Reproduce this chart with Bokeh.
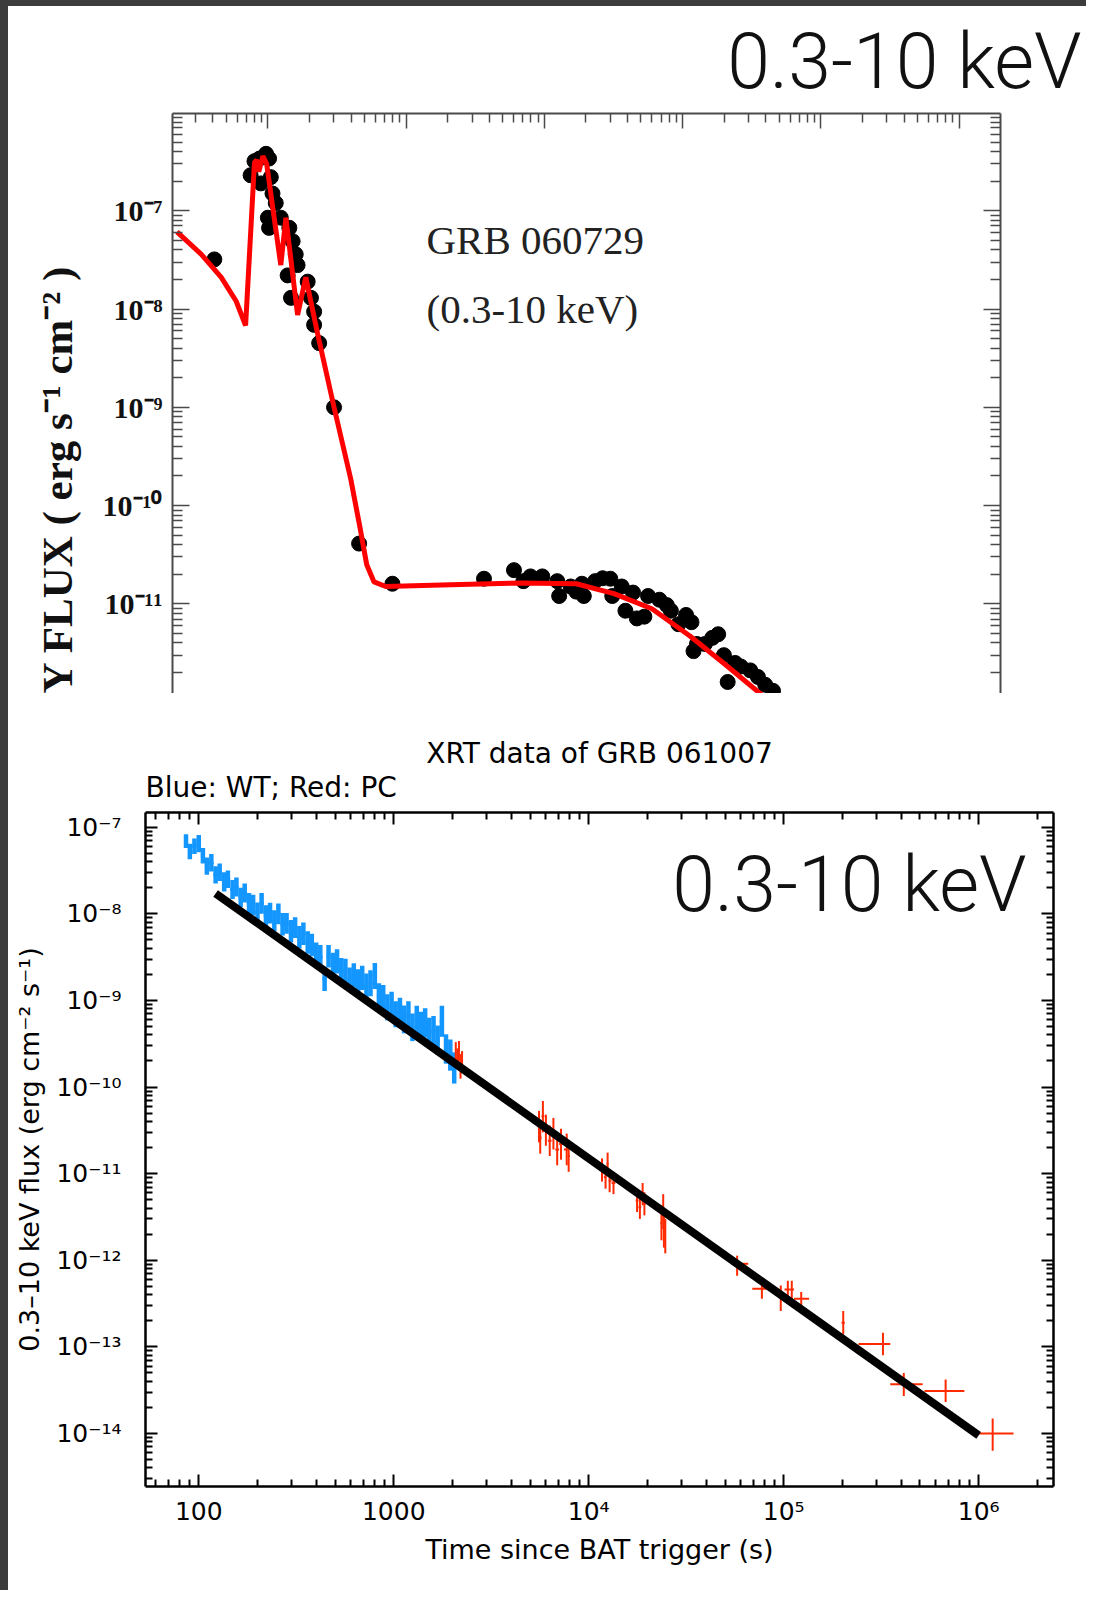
import numpy as np
from bokeh.plotting import figure
from bokeh.models import (LogAxis, FixedTicker, CustomJSTickFormatter, Label, Title, Range1d, Div)
from bokeh.layouts import column, row
from bokeh.embed import file_html
from bokeh.resources import INLINE

# ---------------- GRB 060729 (top panel) ----------------
g1_time = [41, 75, 80, 87, 97, 102, 89, 105, 108, 114,
           100, 102, 124, 143, 151, 159, 164, 139, 194, 147,
           205, 216, 216, 235, 301, 457, 796, 3660, 6030, 7050,
           7940, 9670, 12400, 12800, 15500, 17000, 18700, 19300, 23300, 26400,
           30000, 31000, 36300, 38600, 43800, 46700, 52900, 56300, 68000, 76900,
           82300, 93300, 106000, 116000, 120000, 127000, 145000, 164000, 181000, 199000,
           212000, 240000, 264000, 309000, 351000, 396000, 451000]
g1_flux = [3.2e-8, 2.3e-7, 3.2e-7, 3.4e-7, 3.8e-7, 3.4e-7, 1.9e-7, 2.2e-7, 1.5e-7, 1.2e-7,
           8.5e-8, 6.7e-8, 8.5e-8, 6.7e-8, 4.9e-8, 3.6e-8, 2.8e-8, 2.2e-8, 1.9e-8, 1.3e-8,
           1.3e-8, 9.4e-9, 6.9e-9, 4.5e-9, 1.0e-9, 4.1e-11, 1.6e-11, 1.8e-11, 2.2e-11, 1.7e-11,
           1.9e-11, 1.9e-11, 1.7e-11, 1.2e-11, 1.5e-11, 1.33e-11, 1.6e-11, 1.2e-11, 1.7e-11, 1.82e-11,
           1.8e-11, 1.2e-11, 1.5e-11, 8.5e-12, 1.3e-11, 7.1e-12, 7.4e-12, 1.2e-11, 1.1e-11, 9.7e-12,
           8.5e-12, 6.2e-12, 7.7e-12, 6.5e-12, 3.3e-12, 3.9e-12, 3.9e-12, 4.5e-12, 4.9e-12, 3.0e-12,
           1.6e-12, 2.5e-12, 2.3e-12, 2.1e-12, 1.8e-12, 1.5e-12, 1.3e-12]
g1_model_time = [22, 33, 46, 59, 69, 80, 83, 86, 92, 98,
                 124, 135, 164, 188, 229, 301, 398, 470, 519, 586,
                 713, 2100, 6730, 17000, 31900, 60000, 113000, 212000, 398000, 710000]
g1_model_flux = [6.1e-8, 3.6e-8, 2.1e-8, 1.2e-8, 6.8e-9, 3.1e-7, 3.3e-7, 2.5e-7, 3.6e-7, 3.0e-7,
                 2.8e-8, 8.5e-8, 8.7e-9, 2.1e-8, 5.6e-9, 1.0e-9, 1.85e-10, 5.4e-11, 2.5e-11, 1.67e-11,
                 1.5e-11, 1.56e-11, 1.63e-11, 1.6e-11, 1.27e-11, 8.9e-12, 4.7e-12, 2.3e-12, 1.1e-12, 5.1e-13]
g1_x_decades = [1e2, 1e3, 1e4, 1e5, 1e6, 1e7]
g1_y_decades = [1e-11, 1e-10, 1e-9, 1e-8, 1e-7]

# ---------------- GRB 061007 (bottom panel) ----------------
wt_time = [86, 90, 95, 100, 105, 110, 116, 122, 128, 135,
           141, 149, 156, 164, 172, 181, 190, 200, 210, 221,
           232, 244, 256, 269, 282, 297, 312, 328, 344, 362,
           380, 400, 420, 442, 463, 488, 512, 538, 565, 594,
           624, 656, 689, 724, 760, 800, 839, 883, 927, 975,
           1023, 1076, 1130, 1189, 1247, 1312, 1377, 1449, 1521, 1600,
           1679, 1766, 1854, 1950, 2042]
wt_flux = [6.92e-8, 5.25e-8, 6.03e-8, 6.46e-8, 4.68e-8, 3.55e-8, 3.89e-8, 2.82e-8, 3.02e-8, 2.34e-8,
           2.51e-8, 1.91e-8, 2.04e-8, 1.55e-8, 1.74e-8, 1.32e-8, 1.26e-8, 1.05e-8, 1.32e-8, 9.55e-9,
           1.02e-8, 8.32e-9, 1.0e-8, 7.59e-9, 7.76e-9, 6.31e-9, 6.92e-9, 5.37e-9, 5.89e-9, 4.68e-9,
           4.37e-9, 3.47e-9, 3.16e-9, 1.78e-9, 3.24e-9, 2.57e-9, 2.82e-9, 2.24e-9, 2.19e-9, 1.74e-9,
           1.95e-9, 1.62e-9, 1.82e-9, 1.45e-9, 1.58e-9, 1.91e-9, 1.12e-9, 1.07e-9, 8.32e-10, 8.71e-10,
           6.92e-10, 7.41e-10, 6.03e-10, 6.76e-10, 4.9e-10, 5.89e-10, 5.13e-10, 5.5e-10, 4.27e-10, 4.47e-10,
           3.47e-10, 5.75e-10, 2.75e-10, 2.34e-10, 1.66e-10]
wt_err_dex = [0.08, 0.09, 0.09, 0.10, 0.09, 0.10, 0.10, 0.10, 0.10, 0.11,
              0.10, 0.11, 0.11, 0.11, 0.11, 0.12, 0.12, 0.11, 0.12, 0.12,
              0.12, 0.12, 0.12, 0.13, 0.12, 0.13, 0.12, 0.13, 0.13, 0.13,
              0.13, 0.13, 0.14, 0.14, 0.13, 0.14, 0.14, 0.14, 0.14, 0.14,
              0.14, 0.15, 0.14, 0.15, 0.15, 0.15, 0.15, 0.15, 0.15, 0.16,
              0.15, 0.16, 0.16, 0.16, 0.16, 0.17, 0.16, 0.17, 0.17, 0.17,
              0.17, 0.18, 0.17, 0.18, 0.18]

pc_time = [2080, 2120, 2160, 2200, 2240,
           5560, 5640, 5820, 6030, 6310, 6590, 6890, 7210, 7710, 7890,
           11700, 12200, 12500, 12800, 13400,
           17700, 18300, 18900, 19300,
           23600, 24100, 24300, 24700,
           57700, 77300, 96600, 105000, 110000, 123000, 202000, 323000, 413000, 677000, 1180000]
pc_time_lo = [2060, 2100, 2140, 2180, 2220,
              5480, 5600, 5730, 5920, 6170, 6450, 6740, 7050, 7460, 7800,
              11500, 11950, 12350, 12650, 13100,
              17400, 18000, 18600, 19100,
              23300, 23850, 24200, 24500,
              54000, 69000, 94000, 101000, 108000, 113000, 198000, 242000, 352000, 527000, 966000]
pc_time_hi = [2100, 2140, 2180, 2220, 2260,
              5600, 5730, 5920, 6170, 6450, 6740, 7050, 7460, 7800, 8000,
              11950, 12350, 12650, 13100, 13700,
              18000, 18600, 19100, 19600,
              23850, 24200, 24500, 24900,
              65800, 86500, 99000, 108000, 113000, 135000, 206000, 352000, 516000, 845000, 1510000]
pc_flux = [2.5e-10, 2.1e-10, 2.6e-10, 1.8e-10, 2.0e-10,
           3.5e-11, 2.6e-11, 4.6e-11, 3.2e-11, 2.4e-11, 2.9e-11, 1.9e-11, 2.2e-11, 1.9e-11, 1.6e-11,
           1.1e-11, 9.1e-12, 1.3e-11, 8.3e-12, 7.8e-12,
           4.9e-12, 4.1e-12, 5.8e-12, 4.5e-12,
           2.7e-12, 3.7e-12, 2.2e-12, 1.9e-12,
           9.1e-13, 4.7e-13, 4.1e-13, 4.6e-13, 4.6e-13, 3.6e-13, 1.9e-13, 1.08e-13, 3.7e-14, 3.1e-14, 1.0e-14]
pc_flux_lo = [1.9e-10, 1.6e-10, 2.0e-10, 1.25e-10, 1.5e-10,
              2.3e-11, 1.7e-11, 3.0e-11, 2.1e-11, 1.6e-11, 1.9e-11, 1.25e-11, 1.45e-11, 1.25e-11, 1.05e-11,
              8.1e-12, 6.7e-12, 9.6e-12, 6.1e-12, 5.8e-12,
              3.6e-12, 3.0e-12, 4.3e-12, 3.3e-12,
              1.7e-12, 2.3e-12, 1.4e-12, 1.2e-12,
              6.6e-13, 3.6e-13, 2.6e-13, 3.6e-13, 3.6e-13, 3.0e-13, 1.4e-13, 8.0e-14, 2.7e-14, 2.3e-14, 6.3e-15]
pc_flux_hi = [3.3e-10, 2.8e-10, 3.4e-10, 2.4e-10, 2.6e-10,
              5.3e-11, 3.9e-11, 6.9e-11, 4.8e-11, 3.6e-11, 4.4e-11, 2.9e-11, 3.3e-11, 2.9e-11, 2.4e-11,
              1.5e-11, 1.23e-11, 1.75e-11, 1.12e-11, 1.05e-11,
              6.6e-12, 5.5e-12, 7.8e-12, 6.1e-12,
              4.3e-12, 5.8e-12, 3.5e-12, 3.0e-12,
              1.13e-12, 6.4e-13, 5.1e-13, 5.8e-13, 5.8e-13, 4.3e-13, 2.6e-13, 1.45e-13, 5.0e-14, 4.2e-14, 1.49e-14]
fit_time = [122, 1.0e6]
fit_flux = [1.72e-8, 9.5e-15]
g2_x_decades = [1e2, 1e3, 1e4, 1e5, 1e6]
g2_y_decades = [1e-14, 1e-13, 1e-12, 1e-11, 1e-10, 1e-9, 1e-8, 1e-7]

# ---------------- helpers ----------------
SUP = ('const s = {"-": "\\u207b", "0": "\\u2070", "1": "\\u00b9", "2": "\\u00b2", "3": "\\u00b3", '
       '"4": "\\u2074", "5": "\\u2075", "6": "\\u2076", "7": "\\u2077", "8": "\\u2078", "9": "\\u2079"};')
POW_FMT = SUP + """
const e = Math.round(Math.log10(tick));
return "10" + String(e).split("").map(c => s[c]).join("");
"""
TIME_FMT = SUP + """
const e = Math.round(Math.log10(tick));
if (e <= 3) { return String(Math.round(tick)); }
return "10" + String(e).split("").map(c => s[c]).join("");
"""
BLANK = "return '';"


def minors(decades):
    out = []
    lo = int(round(np.log10(min(decades)))) - 2
    hi = int(round(np.log10(max(decades)))) + 1
    for k in range(lo, hi + 1):
        for m in range(2, 10):
            out.append(m * 10.0 ** k)
    return out


def style_axis(ax, decades, color, lw, tick_w, major_in, minor_in, code):
    ax.ticker = FixedTicker(ticks=decades, minor_ticks=minors(decades))
    ax.formatter = CustomJSTickFormatter(code=code)
    ax.axis_line_color = color
    ax.axis_line_width = lw
    ax.major_tick_line_color = color
    ax.minor_tick_line_color = color
    ax.major_tick_line_width = tick_w
    ax.minor_tick_line_width = tick_w
    ax.major_tick_in = major_in
    ax.major_tick_out = 0
    ax.minor_tick_in = minor_in
    ax.minor_tick_out = 0
    if code == BLANK:
        ax.major_label_text_font_size = "0px"
        ax.major_label_standoff = 0


W = 1078
SERIF = "Liberation Serif"
SANS = "DejaVu Sans"
LIGHT = "Roboto Light"
DARK = "#3c3c3c"

# ---------------- top figure ----------------
p1 = figure(width=W, height=687, x_axis_type="log", y_axis_type="log",
            x_range=Range1d(10 ** 1.31, 10 ** 7.3), y_range=Range1d(10 ** -11.913, 10 ** -6.01),
            x_axis_location="above", y_axis_location="left",
            min_border_left=164, min_border_right=86, min_border_top=107, min_border_bottom=0,
            toolbar_location=None, output_backend="svg")
p1.outline_line_color = None
p1.grid.visible = False
p1.background_fill_color = "white"
p1.border_fill_color = "white"

p1.add_layout(LogAxis(), "right")
FR1 = "#4a4a4a"
style_axis(p1.above[0], g1_x_decades, FR1, 2, 1.5, 15, 9, BLANK)
style_axis(p1.left[0], g1_y_decades, FR1, 2, 1.5, 17, 10, POW_FMT)
style_axis(p1.right[0], g1_y_decades, FR1, 2, 1.5, 17, 10, BLANK)
ya = p1.left[0]
ya.major_label_text_font = SERIF
ya.major_label_text_font_style = "bold"
ya.major_label_text_font_size = "30px"
ya.major_label_text_color = "#111111"
ya.major_label_standoff = 10

p1.add_layout(Title(text="Y FLUX ( erg s\u207b\u00b9 cm\u207b\u00b2 )", align="left",
                    text_font=SERIF, text_font_style="bold", text_font_size="43px",
                    text_color="#111111", standoff=37), "left")
p1.add_layout(Title(text="0.3-10 keV", align="right", offset=-81,
                    text_font=LIGHT, text_font_style="normal", text_font_size="77px",
                    text_color="#111111", standoff=14), "above")

p1.scatter(g1_time, g1_flux, size=15, color="black")
p1.line(g1_model_time, g1_model_flux, line_width=5, color="#ff0000")

p1.add_layout(Label(x=254, y=454, x_units="screen", y_units="screen", text="GRB 060729",
                    text_font=SERIF, text_font_size="41px", text_color="#222222",
                    text_baseline="alphabetic", text_align="left"))
p1.add_layout(Label(x=254, y=385, x_units="screen", y_units="screen", text="(0.3-10 keV)",
                    text_font=SERIF, text_font_size="41px", text_color="#222222",
                    text_baseline="alphabetic", text_align="left"))

# ---------------- bottom figure ----------------
p2 = figure(width=W, height=897, x_axis_type="log", y_axis_type="log",
            x_range=Range1d(53.3, 2.42e6), y_range=Range1d(2.44e-15, 1.48e-7),
            min_border_left=137, min_border_right=33, min_border_top=119, min_border_bottom=104,
            toolbar_location=None, output_backend="svg")
p2.outline_line_color = None
p2.grid.visible = False
p2.background_fill_color = "white"
p2.border_fill_color = "white"
p2.add_layout(LogAxis(), "above")
p2.add_layout(LogAxis(), "right")

style_axis(p2.below[0], g2_x_decades, "black", 2.5, 2, 12, 7, TIME_FMT)
style_axis(p2.above[0], g2_x_decades, "black", 2.5, 2, 12, 7, BLANK)
style_axis(p2.left[0], g2_y_decades, "black", 2.5, 2, 12, 7, POW_FMT)
style_axis(p2.right[0], g2_y_decades, "black", 2.5, 2, 12, 7, BLANK)

xa = p2.below[0]
xa.major_label_text_font = SANS
xa.major_label_text_font_size = "25px"
xa.major_label_text_color = "black"
xa.major_label_standoff = 10
xa.axis_label = "Time since BAT trigger (s)"
xa.axis_label_text_font = SANS
xa.axis_label_text_font_size = "27px"
xa.axis_label_text_font_style = "normal"
xa.axis_label_text_color = "black"
xa.axis_label_standoff = 5

yb = p2.left[0]
yb.major_label_text_font = SANS
yb.major_label_text_font_size = "25px"
yb.major_label_text_color = "black"
yb.major_label_standoff = 24
yb.axis_label = "0.3\u201310 keV flux (erg cm\u207b\u00b2 s\u207b\u00b9)"
yb.axis_label_text_font = SANS
yb.axis_label_text_font_size = "27px"
yb.axis_label_text_font_style = "normal"
yb.axis_label_text_color = "black"
yb.axis_label_standoff = 8

p2.add_layout(Title(text="Blue: WT; Red: PC", align="left", text_font=SANS,
                    text_font_style="normal", text_font_size="28px", text_color="black",
                    standoff=17), "above")
p2.add_layout(Title(text="XRT data of GRB 061007", align="center", text_font=SANS,
                    text_font_style="normal", text_font_size="28px", text_color="black",
                    standoff=-18), "above")

BLUE = "#1496ff"
RED = "#ff2a00"
wt_t = np.array(wt_time, dtype=float)
wt_f = np.array(wt_flux)
wt_e = 10 ** np.array(wt_err_dex)
mids = np.sqrt(wt_t[:-1] * wt_t[1:])
wt_lo = np.r_[wt_t[0] ** 2 / mids[0], mids]
wt_hi = np.r_[mids, wt_t[-1] ** 2 / mids[-1]]
p2.segment(x0=wt_t, x1=wt_t, y0=wt_f / wt_e, y1=wt_f * wt_e, line_color=BLUE, line_width=4.5)
p2.segment(x0=wt_lo, x1=wt_hi, y0=wt_f, y1=wt_f, line_color=BLUE, line_width=3)

p2.segment(x0=pc_time, x1=pc_time, y0=pc_flux_lo, y1=pc_flux_hi, line_color=RED, line_width=2)
p2.segment(x0=pc_time_lo, x1=pc_time_hi, y0=pc_flux, y1=pc_flux, line_color=RED, line_width=2)

p2.line(fit_time, fit_flux, line_width=8, color="black")

p2.add_layout(Label(x=881, y=602, x_units="screen", y_units="screen", text="0.3-10 keV",
                    text_font=LIGHT, text_font_size="77px", text_color="#111111",
                    text_baseline="alphabetic", text_align="right"))

top_strip = Div(width=1086, height=6, margin=0, styles={"background-color": DARK})
left1 = Div(width=8, height=687, margin=0, styles={"background-color": DARK})
left2 = Div(width=8, height=897, margin=0, styles={"background-color": DARK})
layout = column(top_strip, row(left1, p1, spacing=0), row(left2, p2, spacing=0), spacing=0)
open("out.html", "w", encoding="utf-8").write(file_html(layout, INLINE))
